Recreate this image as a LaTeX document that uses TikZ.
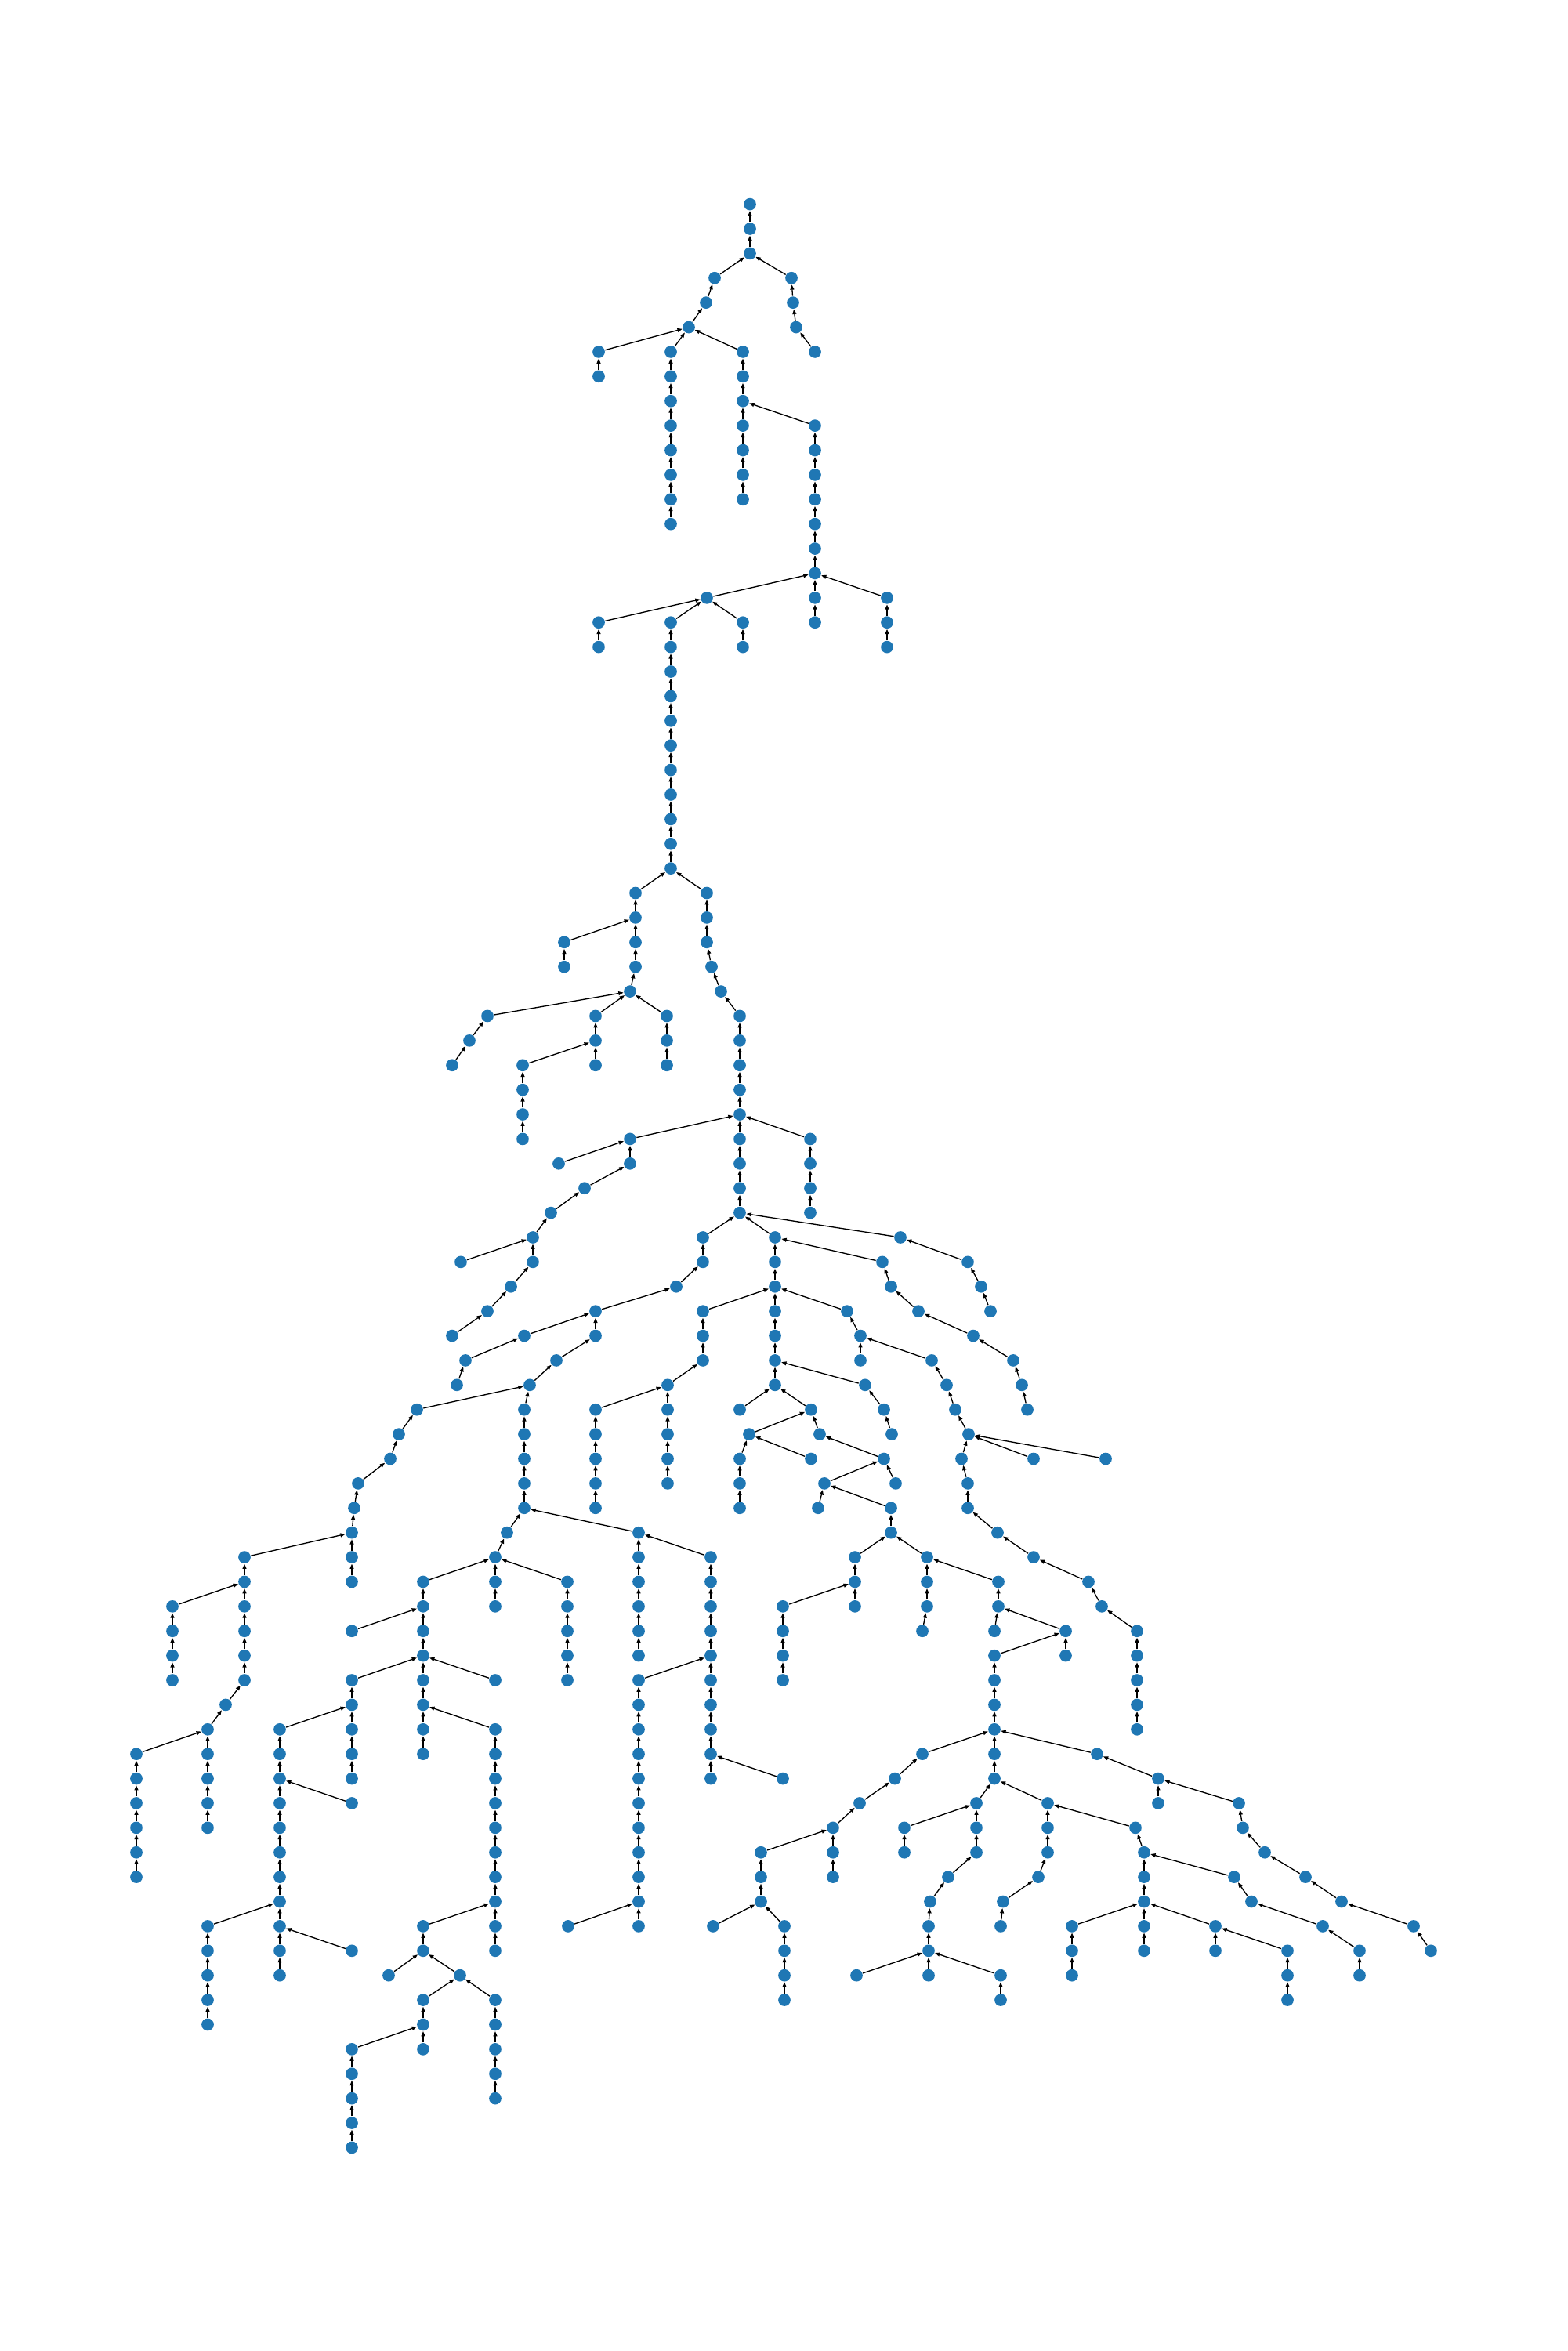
\documentclass[tikz,border=0pt]{standalone}
\usepackage{tikz}
\usepackage{xcolor}
\usetikzlibrary{arrows.meta}
\definecolor{treeblue}{RGB}{31, 119, 180}

% vertical runs of the tree: x / first level / last level / x of the parent one level up
\def\chains{%
    957/0/2/0, 912/3/3/957, 901/4/4/912, 879/5/5/901,
    1010/3/3/957, 1012/4/4/1010, 1016/5/5/1012, 1040/6/6/1016,
    764/6/7/879, 856/6/13/879, 948/6/12/879, 1040/9/17/948,
    902/16/16/1040, 1132/16/18/1040,
    764/17/18/902, 856/17/27/902, 948/17/18/902,
    811/28/31/856, 902/28/30/856, 908/31/31/902, 920/32/32/908, 944/33/41/920,
    720/30/31/811, 804/32/32/811,
    622/33/33/804, 599/34/34/622, 577/35/35/599,
    760/33/35/804, 851/33/35/804, 667/35/38/760,
    804/38/39/944, 1034/38/41/944, 713/39/39/804,
    746/40/40/804, 703/41/41/746, 680/42/43/703, 588/43/43/680,
    652/44/44/680, 622/45/45/652, 577/46/46/622,
    897/42/43/944, 863/44/44/897, 760/45/46/863,
    669/46/46/760, 594/47/47/669, 583/48/48/594,
    710/47/47/760, 676/48/48/710, 532/49/49/676, 669/49/53/676,
    509/50/50/532, 498/51/51/509, 457/52/52/498, 452/53/53/457,
    449/54/56/452, 312/55/60/449, 220/57/60/312,
    288/61/61/312, 265/62/66/288, 174/63/68/265,
    647/54/54/669, 632/55/57/647, 540/56/63/632, 724/56/60/632,
    449/58/58/540, 449/60/64/540, 632/60/60/540,
    357/62/72/449, 449/65/65/357, 265/70/74/357, 449/71/71/357,
    632/62/71/540, 540/70/71/632, 496/72/72/540, 587/72/72/540,
    540/73/75/587, 632/73/77/587, 449/75/79/540,
    815/54/59/669, 907/55/64/815, 815/60/70/907, 725/70/70/815, 999/64/64/907,
    989/42/48/944, 897/45/47/989, 852/48/52/897, 760/49/53/852,
    1081/45/45/989, 1098/46/47/1081, 1189/47/47/1098, 1208/48/48/1189,
    1219/49/49/1208, 1236/50/50/1219,
    1227/51/51/1236, 1319/51/51/1236, 1411/51/51/1236,
    1235/52/53/1227, 1273/54/54/1235, 1319/55/55/1273,
    1389/56/56/1319, 1406/57/57/1389, 1451/58/62/1406,
    1126/43/43/989, 1137/44/44/1126, 1172/45/45/1137, 1242/46/46/1172,
    1293/47/47/1242, 1304/48/48/1293, 1311/49/49/1304,
    1149/42/42/944, 1235/43/43/1149, 1252/44/44/1235, 1264/45/45/1252,
    944/49/49/989, 1035/49/49/989, 956/50/50/1035, 1046/50/50/1035,
    944/51/53/956, 1035/51/51/956, 1128/51/51/1046,
    1052/52/52/1128, 1143/52/52/1128, 1044/53/53/1052, 1137/53/54/1052,
    1091/55/57/1137, 1183/55/57/1137, 1177/58/58/1183, 999/57/60/1091,
    1274/56/57/1183, 1269/58/58/1274, 1360/58/59/1274, 1269/59/64/1360,
    1104/48/48/989, 1128/49/49/1104, 1138/50/50/1128,
    1177/63/63/1269, 1142/64/64/1177, 1097/65/65/1142, 1063/66/68/1097,
    971/67/69/1063, 910/70/70/971, 1001/70/73/971,
    1246/65/67/1269, 1154/66/67/1246, 1210/68/68/1246, 1187/69/69/1210,
    1185/70/72/1187, 1093/72/72/1185, 1277/72/73/1185,
    1337/65/67/1269, 1325/68/68/1337, 1280/69/69/1325, 1277/70/70/1280,
    1449/66/66/1337, 1460/67/71/1449, 1368/70/72/1460,
    1551/70/71/1460, 1643/71/73/1551,
    1575/68/68/1460, 1597/69/69/1575, 1688/70/70/1597, 1735/71/72/1688,
    1400/63/63/1269, 1478/64/65/1400, 1581/65/65/1478, 1586/66/66/1581,
    1614/67/67/1586, 1666/68/68/1614, 1712/69/69/1666,
    1804/70/70/1712, 1826/71/71/1804%
}

\begin{document}
\begin{tikzpicture}[
    x=0.1mm,
    y=-3.139mm,
    vertex/.style={
        circle,
        fill=treeblue,
        draw=none,
        inner sep=0pt,
        minimum size=1.57mm
    },
    arrow/.style={
        -{Triangle[length=1.8pt, width=1.4pt]},
        line width=0.38pt,
        black
    }
]

% Page frame
\useasboundingbox (0,-8.302) rectangle (2000,87.27);

% Nodes
\foreach \x/\a/\b/\p in \chains {
    \foreach \l in {\a,...,\b} {
        \node[vertex] (v\x-\l) at (\x,\l) {};
    }
}

% Connections (child -> parent)
\foreach \x/\a/\b/\p in \chains {
    \ifnum\a>0
        \pgfmathtruncatemacro\lvlup{\a-1}
        \draw[arrow] (v\x-\a) -- (v\p-\lvlup);
    \fi
    \ifnum\b>\a
        \pgfmathtruncatemacro\lvlstart{\a+1}
        \foreach \l in {\lvlstart,...,\b} {
            \pgfmathtruncatemacro\lvlup{\l-1}
            \draw[arrow] (v\x-\l) -- (v\x-\lvlup);
        }
    \fi
}

\end{tikzpicture}
\end{document}
